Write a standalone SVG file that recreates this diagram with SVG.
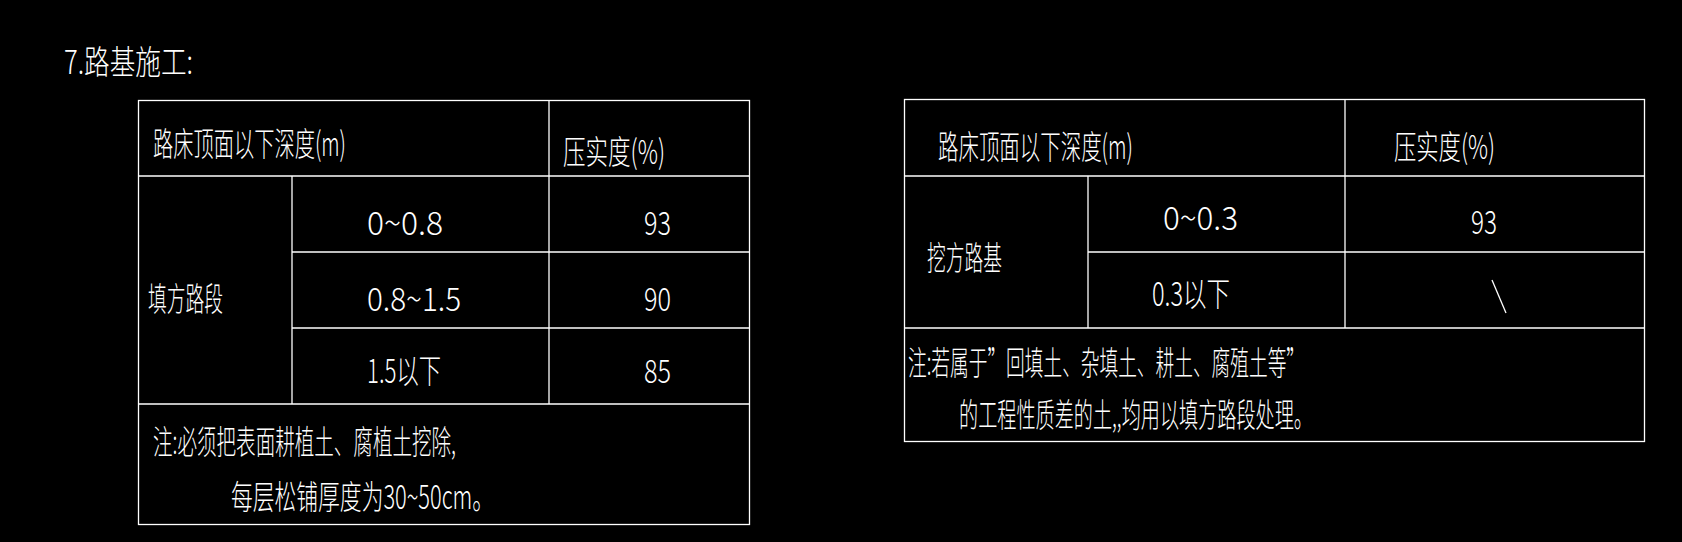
<svg xmlns="http://www.w3.org/2000/svg" width="1682" height="542" viewBox="0 0 1682 542">
<style>
text{font-family:"Noto Sans CJK SC","Liberation Sans",sans-serif;fill:#fff;font-size:33px;font-weight:300}
.g line{stroke:#fff;stroke-width:1.3}
</style>
<rect width="1682" height="542" fill="#000"/>
<g id="heading"><text x="64" y="74" font-size="42" textLength="129" lengthAdjust="spacingAndGlyphs">7.路基施工:</text></g>
<g id="table1" class="g">
<rect x="138.5" y="100.5" width="611" height="424" fill="none" stroke="#fff" stroke-width="1.3"/>
<line x1="138" y1="176" x2="750" y2="176"/>
<line x1="292" y1="252" x2="750" y2="252"/>
<line x1="292" y1="328" x2="750" y2="328"/>
<line x1="138" y1="404" x2="750" y2="404"/>
<line x1="549" y1="100" x2="549" y2="404"/>
<line x1="292" y1="176" x2="292" y2="404"/>
<text x="153" y="156" textLength="193" lengthAdjust="spacingAndGlyphs">路床顶面以下深度(m)</text>
<text x="563" y="164" textLength="102" lengthAdjust="spacingAndGlyphs">压实度(%)</text>
<text x="367" y="235" textLength="76" lengthAdjust="spacingAndGlyphs">0~0.8</text>
<text x="644" y="235" textLength="27" lengthAdjust="spacingAndGlyphs">93</text>
<text x="148" y="311" textLength="75" lengthAdjust="spacingAndGlyphs">填方路段</text>
<text x="367" y="311" textLength="94" lengthAdjust="spacingAndGlyphs">0.8~1.5</text>
<text x="644" y="311" textLength="27" lengthAdjust="spacingAndGlyphs">90</text>
<text x="367" y="383" textLength="74" lengthAdjust="spacingAndGlyphs">1.5以下</text>
<text x="644" y="383" textLength="27" lengthAdjust="spacingAndGlyphs">85</text>
<text x="153" y="454" textLength="303" lengthAdjust="spacingAndGlyphs">注:必须把表面耕植土、腐植土挖除,</text>
<text x="231" y="509" textLength="263" lengthAdjust="spacingAndGlyphs">每层松铺厚度为30~50cm。</text>
</g>
<g id="table2" class="g">
<rect x="904.5" y="99.5" width="740" height="342" fill="none" stroke="#fff" stroke-width="1.3"/>
<line x1="904" y1="176" x2="1645" y2="176"/>
<line x1="1088" y1="252" x2="1645" y2="252"/>
<line x1="904" y1="328" x2="1645" y2="328"/>
<line x1="1345" y1="99" x2="1345" y2="328"/>
<line x1="1088" y1="176" x2="1088" y2="328"/>
<text x="938" y="159" textLength="195" lengthAdjust="spacingAndGlyphs">路床顶面以下深度(m)</text>
<text x="1394" y="159" textLength="101" lengthAdjust="spacingAndGlyphs">压实度(%)</text>
<text x="1163" y="230" textLength="75" lengthAdjust="spacingAndGlyphs">0~0.3</text>
<text x="1471" y="234" textLength="26" lengthAdjust="spacingAndGlyphs">93</text>
<text x="927" y="270" textLength="75" lengthAdjust="spacingAndGlyphs">挖方路基</text>
<text x="1152" y="306" textLength="78" lengthAdjust="spacingAndGlyphs">0.3以下</text>
<line x1="1492" y1="280" x2="1506" y2="313"/>
<text x="908" y="375" textLength="397" lengthAdjust="spacingAndGlyphs">注:若属于”回填土、杂填土、耕土、腐殖土等”</text>
<text x="959" y="427" textLength="354" lengthAdjust="spacingAndGlyphs">的工程性质差的土,,均用以填方路段处理。</text>
</g>
</svg>
